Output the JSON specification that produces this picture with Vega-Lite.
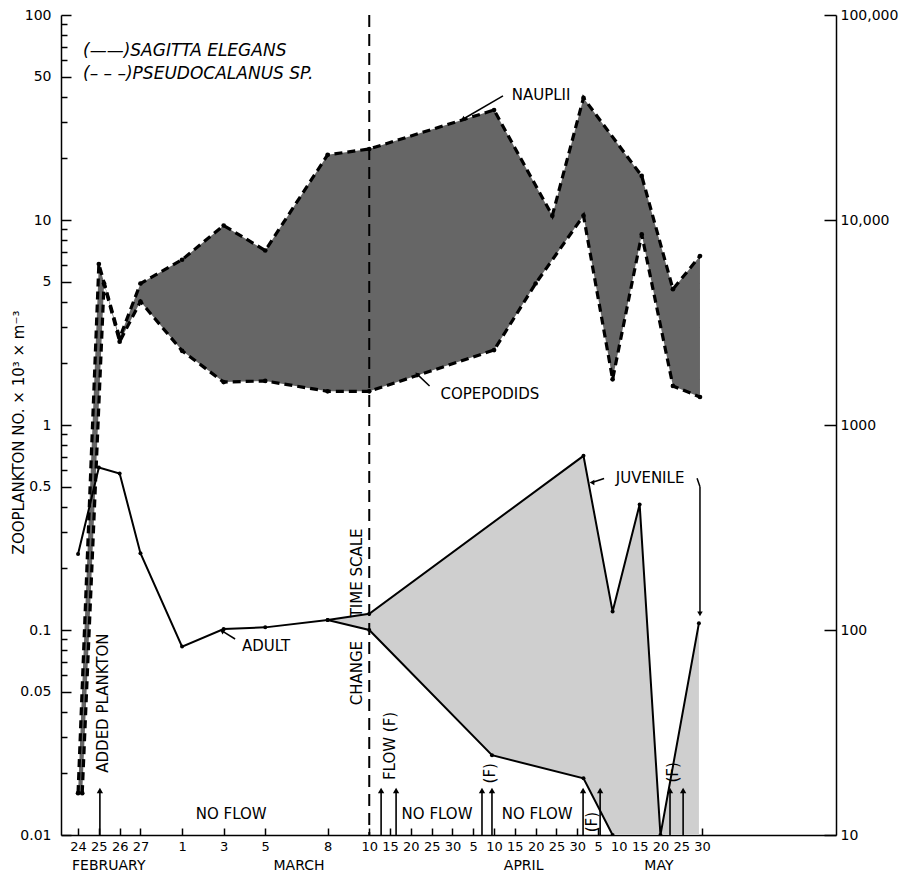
{
 "$schema": "https://vega.github.io/schema/vega-lite/v6.json",
 "width": 775,
 "height": 820,
 "autosize": {"type": "none"},
 "padding": {"left": 61, "top": 15, "right": 79, "bottom": 40},
 "background": "white",
 "config": {
  "view": {"stroke": null},
  "axis": {"grid": false, "domainColor": "black", "domainWidth": 1.5, "tickColor": "black", "tickWidth": 1.5, "labelColor": "black", "labelFont": "DejaVu Sans", "labelFontSize": 14, "titleFont": "DejaVu Sans", "titleColor": "black"},
  "text": {"font": "DejaVu Sans", "fontSize": 15, "color": "black"}
 },
 "datasets": {
  "pz": [
   {"s": "N", "t": 0, "v": 0.016, "k": 1},
   {"s": "N", "t": 1, "v": 6.1, "k": 2},
   {"s": "N", "t": 2, "v": 2.66, "k": 3},
   {"s": "N", "t": 3, "v": 4.9, "k": 4},
   {"s": "N", "t": 5, "v": 6.4, "k": 5},
   {"s": "N", "t": 7, "v": 9.4, "k": 6},
   {"s": "N", "t": 9, "v": 7.1, "k": 7},
   {"s": "N", "t": 12, "v": 20.8, "k": 8},
   {"s": "N", "t": 14, "v": 22.2, "k": 9},
   {"s": "N", "t": 20, "v": 34.4, "k": 10},
   {"s": "N", "t": 22.8, "v": 10.5, "k": 11},
   {"s": "N", "t": 24.3, "v": 39.4, "k": 12},
   {"s": "N", "t": 27.1, "v": 16.4, "k": 13},
   {"s": "N", "t": 28.6, "v": 4.6, "k": 14},
   {"s": "N", "t": 29.9, "v": 6.67, "k": 15},
   {"s": "C", "t": 29.9, "v": 1.37, "k": 34},
   {"s": "C", "t": 28.6, "v": 1.55, "k": 35},
   {"s": "C", "t": 27.1, "v": 8.5, "k": 36},
   {"s": "C", "t": 25.7, "v": 1.67, "k": 37},
   {"s": "C", "t": 24.3, "v": 10.5, "k": 38},
   {"s": "C", "t": 22, "v": 4.9, "k": 39},
   {"s": "C", "t": 20, "v": 2.32, "k": 40},
   {"s": "C", "t": 14, "v": 1.46, "k": 41},
   {"s": "C", "t": 12, "v": 1.46, "k": 42},
   {"s": "C", "t": 9, "v": 1.64, "k": 43},
   {"s": "C", "t": 7, "v": 1.62, "k": 44},
   {"s": "C", "t": 5, "v": 2.3, "k": 45},
   {"s": "C", "t": 3, "v": 4.0, "k": 46},
   {"s": "C", "t": 2, "v": 2.55, "k": 47},
   {"s": "C", "t": 1.25, "v": 4.9, "k": 48},
   {"s": "C", "t": 0.2, "v": 0.016, "k": 49}
  ],
  "sg": [
   {"s": "A", "t": 0, "v": 0.235, "k": null},
   {"s": "A", "t": 1, "v": 0.62, "k": null},
   {"s": "A", "t": 2, "v": 0.58, "k": null},
   {"s": "A", "t": 3, "v": 0.237, "k": null},
   {"s": "A", "t": 5, "v": 0.083, "k": null},
   {"s": "A", "t": 7, "v": 0.101, "k": null},
   {"s": "A", "t": 9, "v": 0.103, "k": null},
   {"s": "A", "t": 12, "v": 0.112, "k": 13},
   {"s": "A", "t": 14, "v": 0.1, "k": 12},
   {"s": "A", "t": 19.9, "v": 0.0245, "k": 11},
   {"s": "A", "t": 24.3, "v": 0.0189, "k": 10},
   {"s": "A", "t": 25.7, "v": 0.01, "k": 9},
   {"s": "J", "t": 12, "v": 0.112, "k": 1},
   {"s": "J", "t": 14, "v": 0.12, "k": 2},
   {"s": "J", "t": 24.3, "v": 0.707, "k": 3},
   {"s": "J", "t": 25.7, "v": 0.123, "k": 4},
   {"s": "J", "t": 27, "v": 0.41, "k": 5},
   {"s": "J", "t": 28, "v": 0.01, "k": 6},
   {"s": "J", "t": 29.85, "v": 0.108, "k": 7},
   {"s": "B", "t": 29.85, "v": 0.01, "k": 8}
  ],
  "arrows": [{"t": 1.05}, {"t": 14.57}, {"t": 15.29}, {"t": 19.42}, {"t": 19.9}, {"t": 24.28}, {"t": 25.1}, {"t": 28.46}, {"t": 29.09}],
  "leaders": [
   {"t": 20.43, "v": 40.3, "t2": 18.5, "v2": 31.0},
   {"t": 16.9, "v": 1.55, "t2": 16.3, "v2": 1.77},
   {"t": 7.55, "v": 0.0904, "t2": 6.92, "v2": 0.0989},
   {"t": 25.29, "v": 0.548, "t2": 24.71, "v2": 0.524},
   {"t": 29.76, "v": 0.55, "t2": 29.9, "v2": 0.5},
   {"t": 29.9, "v": 0.5, "t2": 29.9, "v2": 0.12}
  ],
  "heads": [
   {"t": 18.5, "v": 31.0, "a": 240},
   {"t": 16.3, "v": 1.77, "a": 313},
   {"t": 6.92, "v": 0.0989, "a": 302},
   {"t": 24.71, "v": 0.524, "a": 270},
   {"t": 29.9, "v": 0.12, "a": 180}
  ],
  "notes": [
   {"txt": "NAUPLII", "t": 22.26, "v": 40.7, "a": 0},
   {"txt": "COPEPODIDS", "t": 19.8, "v": 1.42, "a": 0},
   {"txt": "JUVENILE", "t": 27.5, "v": 0.551, "a": 0},
   {"txt": "ADULT", "t": 9.04, "v": 0.0836, "a": 0},
   {"txt": "NO FLOW", "t": 7.36, "v": 0.01265, "a": 0},
   {"txt": "NO FLOW", "t": 17.26, "v": 0.01265, "a": 0},
   {"txt": "NO FLOW", "t": 22.07, "v": 0.01265, "a": 0},
   {"txt": "ADDED PLANKTON", "t": 1.2, "v": 0.044, "a": 270},
   {"txt": "TIME SCALE", "t": 13.4, "v": 0.19, "a": 270},
   {"txt": "CHANGE", "t": 13.4, "v": 0.0616, "a": 270},
   {"txt": "FLOW (F)", "t": 15.0, "v": 0.0272, "a": 270},
   {"txt": "(F)", "t": 19.8, "v": 0.02, "a": 270},
   {"txt": "(F)", "t": 24.7, "v": 0.01156, "a": 270},
   {"txt": "(F)", "t": 28.6, "v": 0.0202, "a": 270}
  ],
  "legend": [
   {"txt": "(——)SAGITTA ELEGANS", "t": 0.24, "v": 66.7},
   {"txt": "(– – –)PSEUDOCALANUS SP.", "t": 0.24, "v": 51.5}
  ]
 },
 "layer": [
  {
   "data": {"name": "pz"},
   "mark": {"type": "line", "fill": "#666666", "strokeOpacity": 0, "clip": true},
   "encoding": {
    "x": {"field": "t", "type": "quantitative", "scale": {"domain": [-0.82, 36.44], "nice": false, "zero": false},
     "axis": {"orient": "bottom", "title": null, "values": [0,1,2,3,5,7,9,12,14,15,16,17,18,19,20,21,22,23,24,25,26,27,28,29,30], "tickSize": -7, "labelPadding": 12, "labelFontSize": 13, "labelOverlap": false, "labelFlush": false,
      "labelExpr": "['24','25','26','27','','1','','3','','5','','','8','','10','15','20','25','30','5','10','15','20','25','30','5','10','15','20','25','30'][datum.value]"}},
    "y": {"field": "v", "type": "quantitative", "scale": {"type": "log", "domain": [0.01, 100], "nice": false},
     "axis": {"orient": "left", "values": [0.01,0.05,0.1,0.5,1,5,10,50,100], "format": "~g", "tickSize": -10, "labelPadding": 20, "labelOverlap": false,
      "title": "ZOOPLANKTON NO. × 10³ × m⁻³", "titleFontSize": 15, "titleFontWeight": "normal", "titleAngle": 270, "titleAlign": "center", "titleBaseline": "middle", "titleX": -43, "titleY": 417}},
    "order": {"field": "k", "type": "quantitative"}
   }
  },
  {
   "data": {"name": "sg"},
   "transform": [{"filter": "datum.k != null"}],
   "mark": {"type": "line", "fill": "#cfcfcf", "strokeOpacity": 0, "clip": true},
   "encoding": {
    "x": {"field": "t", "type": "quantitative", "scale": {"domain": [-0.82, 36.44], "nice": false, "zero": false},
     "axis": {"orient": "bottom", "title": null, "values": [1.45, 10.6, 21.4, 27.9], "ticks": false, "domain": false, "labelPadding": 23, "labelFontSize": 14, "labelOverlap": false, "labelFlush": false,
      "labelExpr": "datum.value < 5 ? 'FEBRUARY' : datum.value < 15 ? 'MARCH' : datum.value < 25 ? 'APRIL' : 'MAY'"}},
    "y": {"field": "v", "type": "quantitative", "scale": {"type": "log", "domain": [0.01, 100], "nice": false},
     "axis": {"orient": "left", "title": null, "values": [0.02,0.03,0.04,0.06,0.07,0.08,0.09,0.2,0.3,0.4,0.6,0.7,0.8,0.9,2,3,4,6,7,8,9,20,30,40,60,70,80,90], "tickSize": -6, "labels": false, "domain": false}},
    "order": {"field": "k", "type": "quantitative"}
   }
  },
  {
   "data": {"values": [{"t": 14}]},
   "mark": {"type": "rule", "color": "black", "strokeWidth": 2, "strokeDash": [12, 7]},
   "encoding": {
    "x": {"field": "t", "type": "quantitative", "scale": {"domain": [-0.82, 36.44], "nice": false, "zero": false}, "axis": null}
   }
  },
  {
   "data": {"name": "pz"},
   "mark": {"type": "line", "color": "black", "strokeWidth": 3.2, "strokeDash": [8, 5], "clip": true},
   "encoding": {
    "x": {"field": "t", "type": "quantitative", "scale": {"domain": [-0.82, 36.44], "nice": false, "zero": false}, "axis": null},
    "y": {"field": "v", "type": "quantitative", "scale": {"type": "log", "domain": [0.01, 100], "nice": false},
     "axis": {"orient": "right", "title": null, "values": [0.01, 0.1, 1, 10, 100], "tickSize": -12, "labelPadding": 16, "labelOverlap": false,
      "labelExpr": "['10','100','1000','10,000','100,000'][round(log(datum.value)/LN10)+2]"}},
    "detail": {"field": "s"}
   }
  },
  {
   "data": {"name": "sg"},
   "transform": [{"filter": "datum.s != 'B'"}],
   "mark": {"type": "line", "color": "black", "strokeWidth": 2, "clip": true},
   "encoding": {
    "x": {"field": "t", "type": "quantitative", "scale": {"domain": [-0.82, 36.44], "nice": false, "zero": false}, "axis": null},
    "y": {"field": "v", "type": "quantitative", "scale": {"type": "log", "domain": [0.01, 100], "nice": false}, "axis": null},
    "detail": {"field": "s"}
   }
  },
  {
   "data": {"name": "pz"},
   "mark": {"type": "point", "filled": true, "color": "black", "size": 22, "opacity": 1, "clip": true},
   "encoding": {
    "x": {"field": "t", "type": "quantitative", "scale": {"domain": [-0.82, 36.44], "nice": false, "zero": false}, "axis": null},
    "y": {"field": "v", "type": "quantitative", "scale": {"type": "log", "domain": [0.01, 100], "nice": false}, "axis": null}
   }
  },
  {
   "data": {"name": "sg"},
   "transform": [{"filter": "datum.s != 'B'"}],
   "mark": {"type": "point", "filled": true, "color": "black", "size": 16, "opacity": 1, "clip": true},
   "encoding": {
    "x": {"field": "t", "type": "quantitative", "scale": {"domain": [-0.82, 36.44], "nice": false, "zero": false}, "axis": null},
    "y": {"field": "v", "type": "quantitative", "scale": {"type": "log", "domain": [0.01, 100], "nice": false}, "axis": null}
   }
  },
  {
   "data": {"name": "arrows"},
   "mark": {"type": "rule", "color": "black", "strokeWidth": 1.6},
   "encoding": {
    "x": {"field": "t", "type": "quantitative", "scale": {"domain": [-0.82, 36.44], "nice": false, "zero": false}, "axis": null},
    "y": {"datum": 0.01, "type": "quantitative", "scale": {"type": "log", "domain": [0.01, 100], "nice": false}, "axis": null},
    "y2": {"datum": 0.0162}
   }
  },
  {
   "data": {"name": "arrows"},
   "mark": {"type": "point", "shape": "triangle-up", "filled": true, "color": "black", "size": 40, "opacity": 1},
   "encoding": {
    "x": {"field": "t", "type": "quantitative", "scale": {"domain": [-0.82, 36.44], "nice": false, "zero": false}, "axis": null},
    "y": {"datum": 0.0165, "type": "quantitative", "scale": {"type": "log", "domain": [0.01, 100], "nice": false}, "axis": null}
   }
  },
  {
   "data": {"name": "leaders"},
   "mark": {"type": "rule", "color": "black", "strokeWidth": 1.5},
   "encoding": {
    "x": {"field": "t", "type": "quantitative", "scale": {"domain": [-0.82, 36.44], "nice": false, "zero": false}, "axis": null},
    "y": {"field": "v", "type": "quantitative", "scale": {"type": "log", "domain": [0.01, 100], "nice": false}, "axis": null},
    "x2": {"field": "t2"},
    "y2": {"field": "v2"}
   }
  },
  {
   "data": {"name": "heads"},
   "mark": {"type": "point", "shape": "triangle-up", "filled": true, "color": "black", "size": 30, "opacity": 1},
   "encoding": {
    "x": {"field": "t", "type": "quantitative", "scale": {"domain": [-0.82, 36.44], "nice": false, "zero": false}, "axis": null},
    "y": {"field": "v", "type": "quantitative", "scale": {"type": "log", "domain": [0.01, 100], "nice": false}, "axis": null},
    "angle": {"field": "a", "type": "quantitative", "scale": null}
   }
  },
  {
   "data": {"name": "notes"},
   "mark": {"type": "text", "align": "center", "baseline": "middle", "fontSize": 15},
   "encoding": {
    "x": {"field": "t", "type": "quantitative", "scale": {"domain": [-0.82, 36.44], "nice": false, "zero": false}, "axis": null},
    "y": {"field": "v", "type": "quantitative", "scale": {"type": "log", "domain": [0.01, 100], "nice": false}, "axis": null},
    "angle": {"field": "a", "type": "quantitative", "scale": null},
    "text": {"field": "txt"}
   }
  },
  {
   "data": {"name": "legend"},
   "mark": {"type": "text", "align": "left", "baseline": "middle", "fontSize": 17, "fontStyle": "italic"},
   "encoding": {
    "x": {"field": "t", "type": "quantitative", "scale": {"domain": [-0.82, 36.44], "nice": false, "zero": false}, "axis": null},
    "y": {"field": "v", "type": "quantitative", "scale": {"type": "log", "domain": [0.01, 100], "nice": false}, "axis": null},
    "text": {"field": "txt"}
   }
  }
 ],
 "resolve": {"axis": {"x": "independent", "y": "independent"}}
}
